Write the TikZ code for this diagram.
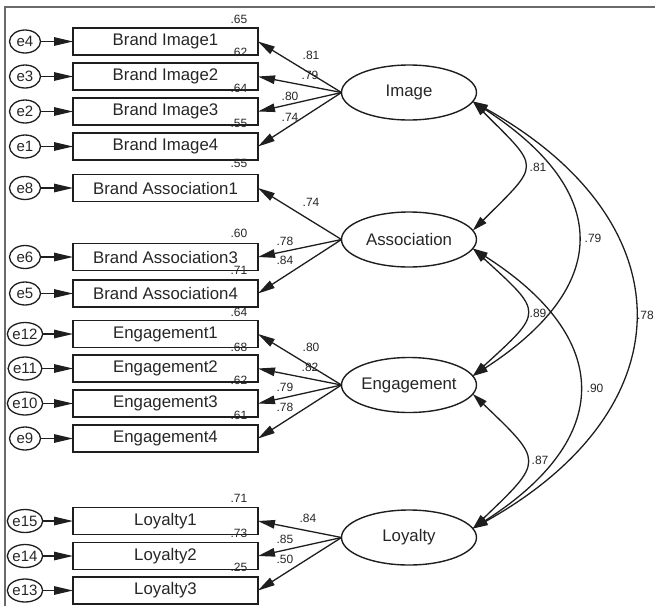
\documentclass[tikz,border=0pt]{standalone}
\usepackage{fontspec}
\setmainfont{Liberation Sans}
\usetikzlibrary{arrows.meta,shapes.geometric,calc}
\definecolor{ink}{HTML}{1E1E1E}
\definecolor{txt}{HTML}{262626}
\definecolor{frm}{HTML}{6A6A6A}
\begin{document}
\begin{tikzpicture}[x=1pt,y=-1pt,
  obs/.style={draw=ink, line width=1.5pt, minimum width=185pt, minimum height=27pt, inner sep=0pt, outer sep=0pt, font=\fontsize{16.8}{18}\selectfont, text=txt},
  err/.style={ellipse, draw=ink, line width=1.3pt, minimum width=31pt, minimum height=23pt, inner sep=0pt, outer sep=0pt, font=\fontsize{15}{17}\selectfont, text=txt},
  lat/.style={ellipse, draw=ink, line width=1.4pt, minimum width=135pt, minimum height=55pt, inner sep=0pt, outer sep=0pt, font=\fontsize{16.8}{18}\selectfont, text=txt},
  coef/.style={font=\fontsize{12}{14}\selectfont, text=txt, inner sep=0pt},
  ea/.style={draw=ink, line width=1.3pt, -{Triangle[length=19pt,width=8.5pt]}},
  la/.style={draw=ink, line width=1.3pt, -{Triangle[length=17pt,width=8.5pt]}},
  cv/.style={draw=ink, line width=1.3pt, {Triangle[length=15pt,width=8.5pt]}-{Triangle[length=15pt,width=8.5pt]}},
]
\useasboundingbox (0,0) rectangle (655,606);
% frame
\draw[frm, line width=1.6pt] (5,606) -- (5,7) -- (655,7);

% observed boxes
\node[obs] (b1)  at (165.5,41.5)  {Brand Image1};
\node[obs] (b2)  at (165.5,76.5)  {Brand Image2};
\node[obs] (b3)  at (165.5,111.5) {Brand Image3};
\node[obs] (b4)  at (165.5,146.5) {Brand Image4};
\node[obs] (b5)  at (165.5,188)   {Brand Association1};
\node[obs] (b6)  at (165.5,257)   {Brand Association3};
\node[obs] (b7)  at (165.5,293.5) {Brand Association4};
\node[obs] (b8)  at (165.5,334)   {Engagement1};
\node[obs] (b9)  at (165.5,368.5) {Engagement2};
\node[obs] (b10) at (165.5,403.5) {Engagement3};
\node[obs] (b11) at (165.5,438.5) {Engagement4};
\node[obs] (b12) at (165.5,521)   {Loyalty1};
\node[obs] (b13) at (165.5,556)   {Loyalty2};
\node[obs] (b14) at (165.5,590.5) {Loyalty3};

% error terms
\node[err] (e4)  at (25,41.5)  {e4};
\node[err] (e3)  at (25,76.5)  {e3};
\node[err] (e2)  at (25,111.5) {e2};
\node[err] (e1)  at (25,146.5) {e1};
\node[err] (e8)  at (25,188)   {e8};
\node[err] (e6)  at (25,257)   {e6};
\node[err] (e5)  at (25,293.5) {e5};
\node[err] (e12) at (25,334)   {e12};
\node[err] (e11) at (25,368.5) {e11};
\node[err] (e10) at (25,403.5) {e10};
\node[err] (e9)  at (25,438.5) {e9};
\node[err] (e15) at (25,521)   {e15};
\node[err] (e14) at (25,556)   {e14};
\node[err] (e13) at (25,590.5) {e13};

\foreach \e/\b in {e4/b1,e3/b2,e2/b3,e1/b4,e8/b5,e6/b6,e5/b7,e12/b8,e11/b9,e10/b10,e9/b11,e15/b12,e14/b13,e13/b14}
  \draw[ea] (\e) -- (\b);

% latent variables
\node[lat] (img) at (409,92.5)  {Image};
\node[lat] (asc) at (409,239.5) {Association};
\node[lat] (eng) at (409,385)   {Engagement};
\node[lat] (loy) at (409,537.5) {Loyalty};

% loadings
\foreach \b in {b1,b2,b3,b4} \draw[la] (img.west) -- (\b.east);
\foreach \b in {b5,b6,b7} \draw[la] (asc.west) -- (\b.east);
\foreach \b in {b8,b9,b10,b11} \draw[la] (eng.west) -- (\b.east);
\foreach \b in {b12,b13,b14} \draw[la] (loy.west) -- (\b.east);

% loading coefficients
\node[coef] (l1)  at (311,55)  {.81};
\node[coef] (l2)  at (310,75)  {.79};
\node[coef] (l3)  at (290,96)  {.80};
\node[coef] (l4)  at (290,117) {.74};
\node[coef] (l5)  at (311,202) {.74};
\node[coef] (l6)  at (285,241) {.78};
\node[coef] (l7)  at (285,260) {.84};
\node[coef] (l8)  at (311,347) {.80};
\node[coef] (l9)  at (310,367) {.82};
\node[coef] (l10) at (285,387) {.79};
\node[coef] (l11) at (285,407) {.78};
\node[coef] (l12) at (308,518) {.84};
\node[coef] (l13) at (285,539) {.85};
\node[coef] (l14) at (285,559) {.50};

% squared multiple correlations
\node[coef] (r1)  at (239,19)  {.65};
\node[coef] (r2)  at (239,52)  {.62};
\node[coef] (r3)  at (239,88)  {.64};
\node[coef] (r4)  at (239,123) {.55};
\node[coef] (r5)  at (239,163) {.55};
\node[coef] (r6)  at (239,233) {.60};
\node[coef] (r7)  at (239,270) {.71};
\node[coef] (r8)  at (239,312) {.64};
\node[coef] (r9)  at (239,347) {.68};
\node[coef] (r10) at (239,380) {.62};
\node[coef] (r11) at (239,415) {.61};
\node[coef] (r12) at (239,498) {.71};
\node[coef] (r13) at (239,533) {.73};
\node[coef] (r14) at (239,567) {.25};

% covariances
\draw[cv] (img.-8) .. controls +(68,68) and +(68,-68) .. (asc.8);
\draw[cv] (img.-8) .. controls +(139,90) and +(139,-90) .. (eng.8);
\draw[cv] (img.-8) .. controls +(215,120) and +(215,-120) .. (loy.8);
\draw[cv] (asc.-8) .. controls +(71,65) and +(71,-65) .. (eng.8);
\draw[cv] (asc.-8) .. controls +(141,90) and +(141,-90) .. (loy.8);
\draw[cv] (eng.-8) .. controls +(71,68) and +(71,-68) .. (loy.8);

\node[coef] (c1) at (538,167) {.81};
\node[coef] (c2) at (593,238) {.79};
\node[coef, anchor=east] (c3) at (654,315) {.78};
\node[coef] (c4) at (538,313) {.89};
\node[coef] (c5) at (595,388) {.90};
\node[coef] (c6) at (540,460) {.87};
\end{tikzpicture}
\end{document}
